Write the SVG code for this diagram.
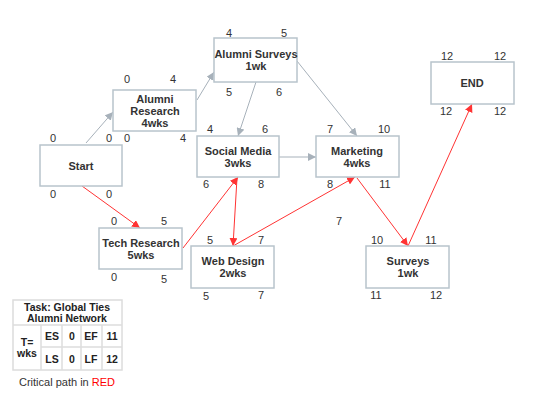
<svg xmlns="http://www.w3.org/2000/svg" width="540" height="404" viewBox="0 0 540 404">
<defs>
<style>
.box{fill:#fff;stroke:#b8c4cc;stroke-width:1.5}
.lbl{font-family:"Liberation Sans",Arial,sans-serif;font-size:11px;font-weight:bold;fill:#333;text-anchor:middle}
.num{font-family:"Liberation Sans",Arial,sans-serif;font-size:11px;fill:#333;text-anchor:middle}
.g{stroke:#a7b1ba;stroke-width:1;fill:none;marker-end:url(#ag)}
.r{stroke:#ff3333;stroke-width:1;fill:none;marker-end:url(#ar)}
.tb{fill:none;stroke:#dcdcdc;stroke-width:1.5}
.tt{font-family:"Liberation Sans",Arial,sans-serif;font-size:10.5px;font-weight:bold;fill:#222;text-anchor:middle}
</style>
<marker id="ag" viewBox="0 0 10 10" refX="10" refY="5" markerWidth="8" markerHeight="8" markerUnits="userSpaceOnUse" orient="auto"><path d="M0,0 L10,5 L0,10 z" fill="#a7b1ba"/></marker>
<marker id="ar" viewBox="0 0 10 10" refX="10" refY="5" markerWidth="8" markerHeight="8" markerUnits="userSpaceOnUse" orient="auto"><path d="M0,0 L10,5 L0,10 z" fill="#ff3333"/></marker>
</defs>
<rect width="540" height="404" fill="#fff"/>
<g id="connectors">
<line class="g" x1="86" y1="143" x2="113" y2="112"/>
<line class="g" x1="197" y1="100" x2="214" y2="72"/>
<line class="g" x1="256" y1="82" x2="238" y2="136"/>
<line class="g" x1="279" y1="157" x2="316" y2="157"/>
<line class="g" x1="297" y1="61" x2="357" y2="136"/>
<line class="r" x1="82" y1="186" x2="140" y2="228"/>
<line class="r" x1="183" y1="248" x2="238" y2="177"/>
<line class="r" x1="237" y1="178" x2="233" y2="246"/>
<line class="r" x1="233" y1="246" x2="355" y2="177"/>
<line class="r" x1="357" y1="178" x2="408" y2="246"/>
<line class="r" x1="408" y1="246" x2="472" y2="104"/>
</g>
<g id="start">
<rect class="box" x="40" y="145" width="82" height="41"/>
<text class="lbl" x="81" y="170">Start</text>
<text class="num" x="53" y="142">0</text><text class="num" x="109" y="142">0</text>
<text class="num" x="53" y="198">0</text><text class="num" x="109" y="198">0</text>
</g>
<g id="alumni-research">
<rect class="box" x="113" y="90" width="83" height="41"/>
<text class="lbl" x="155" y="103">Alumni</text>
<text class="lbl" x="155" y="115">Research</text>
<text class="lbl" x="155" y="127">4wks</text>
<text class="num" x="127" y="83">0</text><text class="num" x="173" y="83">4</text>
<text class="num" x="127" y="142">0</text><text class="num" x="183" y="142">4</text>
</g>
<g id="alumni-surveys">
<rect class="box" x="214" y="38" width="83" height="44"/>
<text class="lbl" x="256" y="58">Alumni Surveys</text>
<text class="lbl" x="256" y="70">1wk</text>
<text class="num" x="229" y="37">4</text><text class="num" x="284" y="37">5</text>
<text class="num" x="229" y="96">5</text><text class="num" x="279" y="96">6</text>
</g>
<g id="social-media">
<rect class="box" x="197" y="136" width="82" height="41"/>
<text class="lbl" x="238" y="155">Social Media</text>
<text class="lbl" x="238" y="167">3wks</text>
<text class="num" x="210" y="133">4</text><text class="num" x="265" y="133">6</text>
<text class="num" x="206" y="188">6</text><text class="num" x="261" y="188">8</text>
</g>
<g id="marketing">
<rect class="box" x="316" y="136" width="83" height="41"/>
<text class="lbl" x="357" y="155">Marketing</text>
<text class="lbl" x="357" y="167">4wks</text>
<text class="num" x="330" y="133">7</text><text class="num" x="384" y="133">10</text>
<text class="num" x="330" y="188">8</text><text class="num" x="385" y="188">11</text>
</g>
<g id="end">
<rect class="box" x="431" y="62" width="83" height="42"/>
<text class="lbl" x="472" y="87">END</text>
<text class="num" x="447" y="60">12</text><text class="num" x="500" y="60">12</text>
<text class="num" x="446" y="115">12</text><text class="num" x="500" y="115">12</text>
</g>
<g id="tech-research">
<rect class="box" x="99" y="228" width="83" height="41"/>
<text class="lbl" x="141" y="247">Tech Research</text>
<text class="lbl" x="141" y="259">5wks</text>
<text class="num" x="114" y="225">0</text><text class="num" x="164" y="225">5</text>
<text class="num" x="114" y="281">0</text><text class="num" x="164" y="283">5</text>
</g>
<g id="web-design">
<rect class="box" x="191" y="246" width="83" height="42"/>
<text class="lbl" x="233" y="265">Web Design</text>
<text class="lbl" x="233" y="277">2wks</text>
<text class="num" x="210" y="244">5</text><text class="num" x="261" y="244">7</text>
<text class="num" x="206" y="300">5</text><text class="num" x="261" y="299">7</text>
</g>
<g id="surveys">
<rect class="box" x="366" y="246" width="83" height="42"/>
<text class="lbl" x="408" y="265">Surveys</text>
<text class="lbl" x="408" y="277">1wk</text>
<text class="num" x="377" y="244">10</text><text class="num" x="431" y="244">11</text>
<text class="num" x="376" y="299">11</text><text class="num" x="436" y="299">12</text>
</g>
<text class="num" x="339" y="225">7</text>
<g id="legend">
<rect class="tb" x="13" y="300" width="109" height="70"/>
<line class="tb" x1="13" y1="325" x2="122" y2="325"/>
<line class="tb" x1="41" y1="347" x2="122" y2="347"/>
<line class="tb" x1="41" y1="325" x2="41" y2="370"/>
<line class="tb" x1="62" y1="325" x2="62" y2="370"/>
<line class="tb" x1="81" y1="325" x2="81" y2="370"/>
<line class="tb" x1="102" y1="325" x2="102" y2="370"/>
<text class="tt" x="67" y="311">Task: Global Ties</text>
<text class="tt" x="67" y="322">Alumni Network</text>
<text class="tt" x="27" y="346">T=</text>
<text class="tt" x="27" y="357">wks</text>
<text class="tt" x="52" y="340">ES</text><text class="tt" x="72" y="340">0</text><text class="tt" x="91" y="340">EF</text><text class="tt" x="112" y="340">11</text>
<text class="tt" x="52" y="363">LS</text><text class="tt" x="72" y="363">0</text><text class="tt" x="91" y="363">LF</text><text class="tt" x="112" y="363">12</text>
<text x="67" y="386" style="font-family:'Liberation Sans',Arial,sans-serif;font-size:11px;fill:#333;text-anchor:middle">Critical path in <tspan fill="#ff0000">RED</tspan></text>
</g>
</svg>
